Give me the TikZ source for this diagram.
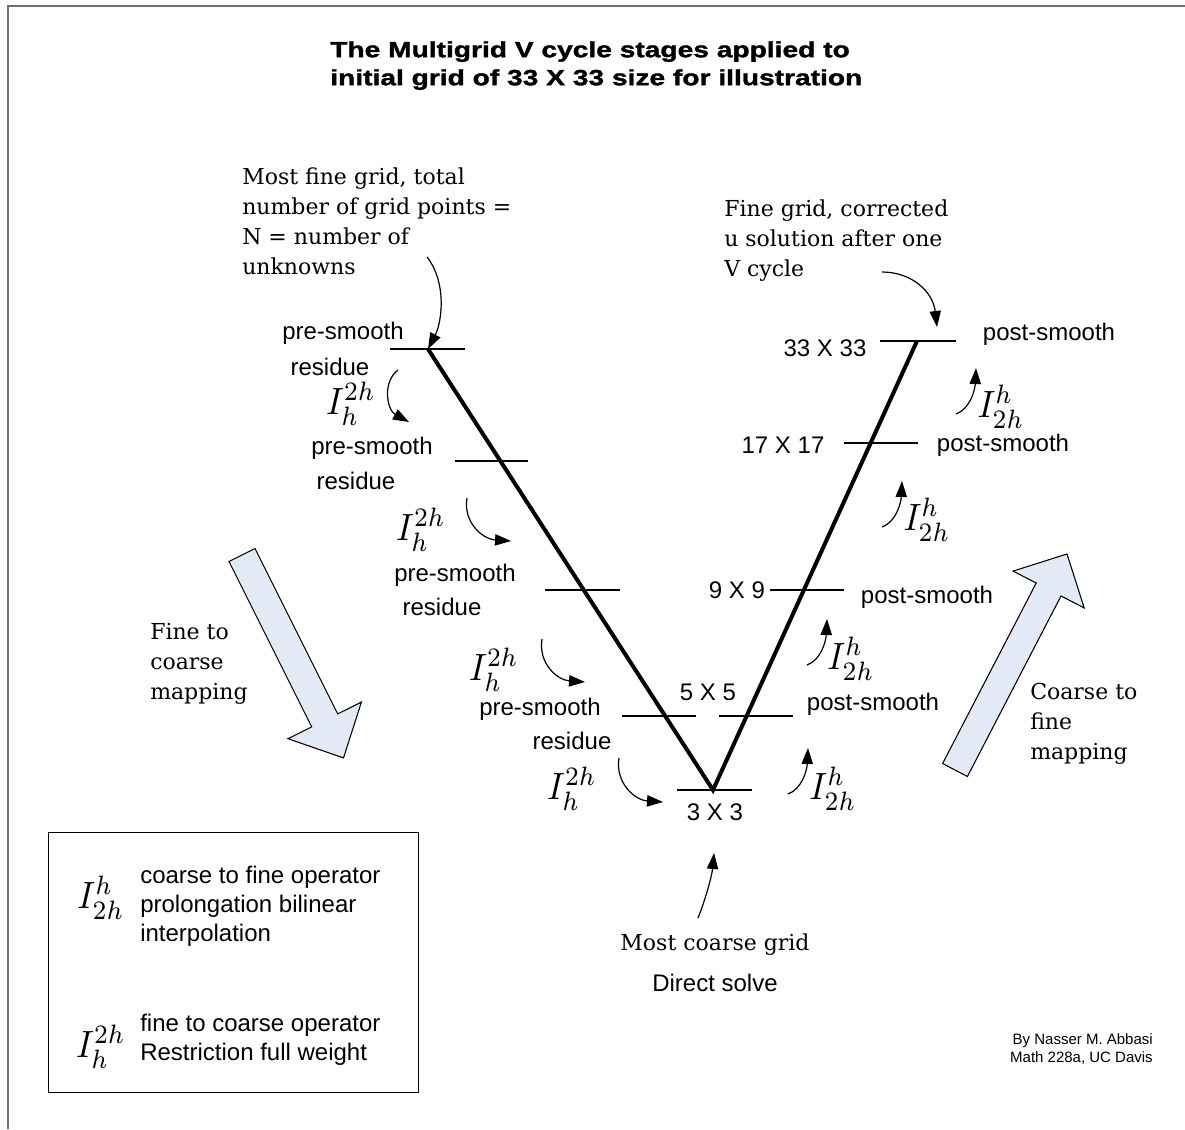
\documentclass[tikz,border=0pt]{standalone}
\usepackage{fontspec}
\newfontfamily\sansf{Liberation Sans}
\newfontfamily\serf{DejaVu Serif}
\newfontfamily\titlef[FakeStretch=1.28,FakeBold=1.5]{Liberation Sans}
\usetikzlibrary{arrows.meta}
\definecolor{arrowfill}{RGB}{227,234,246}
\definecolor{framegray}{RGB}{110,110,110}
\newcommand{\opR}{\scalebox{2.6}[2.85]{$I_h^{2h}$}}
\newcommand{\opP}{\scalebox{2.6}[2.85]{$I_{2h}^h$}}
\tikzset{
  tick/.style={line width=1.1pt},
  vline/.style={line width=3pt, line join=miter},
  lbl/.style={font=\sansf\fontsize{18}{21}\selectfont, inner sep=0pt},
  legtxt/.style={font=\sansf\fontsize{18}{21.75}\selectfont, inner sep=0pt, align=left, anchor=north west},
  ser/.style={font=\serf\fontsize{16.5}{22.5}\selectfont, inner sep=0pt, align=left},
  op/.style={inner sep=0pt},
  carrow/.style={line width=0.9pt, -{Triangle[length=12pt,width=8.5pt]}},
  blockarrow/.style={fill=arrowfill, draw=black, line width=0.8pt, line join=miter}
}
\begin{document}
\begin{tikzpicture}[x=0.75pt,y=-0.75pt]
\useasboundingbox (0,0) rectangle (1185,1129);
% frame
\draw[framegray, line width=1.5pt] (8,1129) -- (8,6) -- (1185,6);
% title
\node[font=\titlef\bfseries\fontsize{16.5}{21}\selectfont, inner sep=0pt, align=left, anchor=north west] (title) at (330,41)
  {The Multigrid V cycle stages applied to\\initial grid of 33 X 33 size for illustration};

% V cycle
\coordinate (tl) at (428,349);
\coordinate (bt) at (713,790);
\coordinate (tr) at (917,341);
\draw[vline] (tl) -- (bt) -- (tr);

% level ticks
\coordinate (l1a) at (390,349); \coordinate (l1b) at (465,349);
\coordinate (l2a) at (455,461); \coordinate (l2b) at (528,461);
\coordinate (l3a) at (545,590); \coordinate (l3b) at (620,590);
\coordinate (l4a) at (622,716); \coordinate (l4b) at (696,716);
\coordinate (bta) at (677,790); \coordinate (btb) at (752,790);
\coordinate (r4a) at (719,716); \coordinate (r4b) at (793,716);
\coordinate (r3a) at (770,590); \coordinate (r3b) at (844,590);
\coordinate (r2a) at (844,443); \coordinate (r2b) at (918,443);
\coordinate (r1a) at (880,341); \coordinate (r1b) at (956,341);
\draw[tick] (l1a) -- (l1b);
\draw[tick] (l2a) -- (l2b);
\draw[tick] (l3a) -- (l3b);
\draw[tick] (l4a) -- (l4b);
\draw[tick] (bta) -- (btb);
\draw[tick] (r4a) -- (r4b);
\draw[tick] (r3a) -- (r3b);
\draw[tick] (r2a) -- (r2b);
\draw[tick] (r1a) -- (r1b);

% left labels
\node[lbl] (ps1) at (343,333) {pre-smooth};
\node[lbl] (rs1) at (330,367) {residue};
\node[op] (il1) at (351,404) {\opR};
\node[lbl] (ps2) at (372,448) {pre-smooth};
\node[lbl] (rs2) at (356,481) {residue};
\node[op] (il2) at (421,530) {\opR};
\node[lbl] (ps3) at (455,575) {pre-smooth};
\node[lbl] (rs3) at (442,607) {residue};
\node[op] (il3) at (494,670) {\opR};
\node[lbl] (ps4) at (540,709) {pre-smooth};
\node[lbl] (rs4) at (572,741) {residue};
\node[op] (il4) at (572,789) {\opR};

% left small arrows
\coordinate (a1s) at (398,370); \coordinate (a1e) at (409,422);
\draw[carrow] (a1s) .. controls (382,382) and (387,410) .. (a1e);
\coordinate (a2s) at (467,498); \coordinate (a2e) at (511,541);
\draw[carrow] (a2s) .. controls (463,522) and (482,539) .. (a2e);
\coordinate (a3s) at (542,639); \coordinate (a3e) at (585,682);
\draw[carrow] (a3s) .. controls (538,663) and (557,680) .. (a3e);
\coordinate (a4s) at (619,758); \coordinate (a4e) at (663,802);
\draw[carrow] (a4s) .. controls (615,782) and (634,800) .. (a4e);

% right labels
\node[lbl] (g33) at (825,348) {33 X 33};
\node[lbl] (pp1) at (1049,334) {post-smooth};
\node[op] (ir1) at (1001,407) {\opP};
\node[lbl] (g17) at (783,445) {17 X 17};
\node[lbl] (pp2) at (1003,445) {post-smooth};
\node[op] (ir2) at (927,520) {\opP};
\node[lbl] (g9) at (737,590) {9 X 9};
\node[lbl] (pp3) at (927,597) {post-smooth};
\node[op] (ir3) at (851,659) {\opP};
\node[lbl] (g5) at (708,692) {5 X 5};
\node[lbl] (pp4) at (873,704) {post-smooth};
\node[op] (ir4) at (833,789) {\opP};
\node[lbl] (g3) at (715,812) {3 X 3};

% right small arrows
\coordinate (b1s) at (956,414); \coordinate (b1e) at (976,368);
\draw[carrow] (b1s) .. controls (970,409) and (975,390) .. (b1e);
\coordinate (b2s) at (882,527); \coordinate (b2e) at (902,481);
\draw[carrow] (b2s) .. controls (896,522) and (901,503) .. (b2e);
\coordinate (b3s) at (807,665); \coordinate (b3e) at (827,619);
\draw[carrow] (b3s) .. controls (821,660) and (826,641) .. (b3e);
\coordinate (b4s) at (788,794); \coordinate (b4e) at (808,748);
\draw[carrow] (b4s) .. controls (802,789) and (807,770) .. (b4e);

% annotations
\node[ser, anchor=north west] (finest) at (242,168)
  {Most fine grid, total\\number of grid points =\\N = number of\\unknowns};
\coordinate (fs) at (427,257);
\draw[carrow] (fs) .. controls (447,282) and (442,322) .. (tl);

\node[ser, anchor=north west] (finecorr) at (724,200)
  {Fine grid, corrected\\u solution after one\\V cycle};
\coordinate (cs) at (882,272); \coordinate (ce) at (937,327);
\draw[carrow] (cs) .. controls (912,272) and (933,292) .. (ce);

\node[ser] (coarsest) at (715,945) {Most coarse grid};
\node[lbl] (direct) at (715,983) {Direct solve};
\coordinate (ds) at (698,918); \coordinate (de) at (714,853);
\draw[carrow] (ds) .. controls (706,898) and (712,875) .. (de);

% block arrows
\draw[blockarrow] (255.0,548.5) -- (337.7,713.9) -- (361.4,702.1) -- (343.5,757.9)
  -- (288.0,738.7) -- (311.7,726.9) -- (229.0,561.5) -- cycle;
\node[ser, anchor=north west] (f2c) at (150,623) {Fine to\\coarse\\mapping};

\draw[blockarrow] (942.6,763.5) -- (1036.2,583.0) -- (1013.0,571.1) -- (1067,554)
  -- (1084.2,607.9) -- (1061.0,596.0) -- (967.4,776.5) -- cycle;
\node[ser, anchor=north west] (c2f) at (1030,683) {Coarse to\\fine\\mapping};

% legend
\node[draw, line width=0.9pt, minimum width=277.5pt, minimum height=195pt, inner sep=0pt, anchor=north west] (legend) at (48,832) {};
\node[op] (legp) at (101,898) {\opP};
\node[legtxt] (legpt) at (140,866) {coarse to fine operator\\prolongation bilinear\\interpolation};
\node[op] (legr) at (101,1047) {\opR};
\node[legtxt] (legrt) at (140,1014) {fine to coarse operator\\Restriction full weight};

% signature
\node[font=\sansf\fontsize{11.25}{13.5}\selectfont, inner sep=0pt, align=right, anchor=north east] (sig) at (1153,1033)
  {By Nasser M. Abbasi\\Math 228a, UC Davis};
\end{tikzpicture}
\end{document}
